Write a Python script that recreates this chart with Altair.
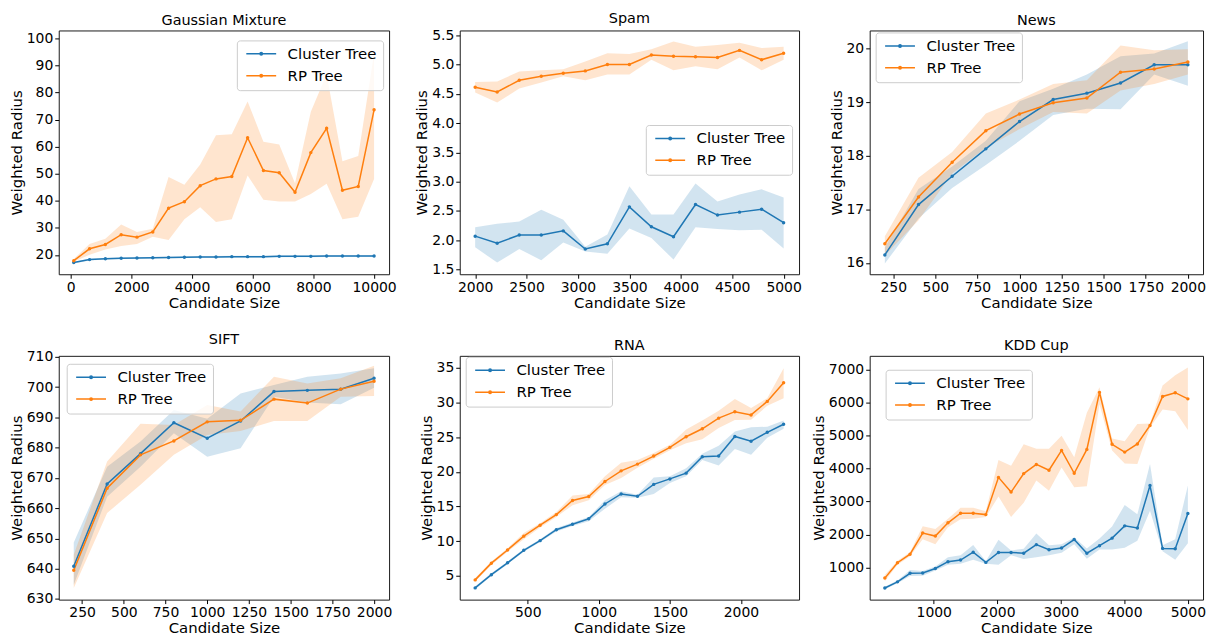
import altair as alt
import pandas as pd

FONT = "DejaVu Sans"
BLUE, ORANGE = "#1f77b4", "#ff7f0e"
SERIES = ["Cluster Tree", "RP Tree"]

# ---------------- Gaussian Mixture ----------------
gm_x = [100, 621, 1142, 1663, 2184, 2705, 3226, 3747, 4268, 4789, 5310, 5831, 6352, 6873, 7394, 7915, 8436, 8957, 9478, 10000]
gm_ct = [17.2, 18.3, 18.6, 18.8, 18.9, 19.0, 19.1, 19.2, 19.3, 19.3, 19.4, 19.4, 19.4, 19.5, 19.5, 19.5, 19.6, 19.6, 19.6, 19.6]
gm_ct_lo = [16.9, 18.0, 18.3, 18.5, 18.6, 18.7, 18.8, 18.9, 19.0, 19.0, 19.1, 19.1, 19.1, 19.2, 19.2, 19.2, 19.3, 19.3, 19.3, 19.3]
gm_ct_hi = [17.5, 18.6, 18.9, 19.1, 19.2, 19.3, 19.4, 19.5, 19.6, 19.6, 19.7, 19.7, 19.7, 19.8, 19.8, 19.8, 19.9, 19.9, 19.9, 19.9]
gm_rp = [17.9, 22.3, 23.9, 27.5, 26.6, 28.5, 37.3, 39.7, 45.6, 48.1, 49.0, 63.3, 51.2, 50.4, 43.2, 57.8, 66.8, 43.9, 45.3, 73.6]
gm_rp_lo = [17.5, 20.1, 22.0, 23.3, 24.1, 26.7, 25.5, 33.2, 37.6, 32.2, 33.2, 49.4, 40.4, 39.8, 39.8, 42.5, 46.3, 33.2, 34.1, 48.1]
gm_rp_hi = [18.5, 24.1, 26.0, 31.3, 28.5, 29.7, 48.8, 45.9, 53.4, 64.2, 64.6, 76.7, 61.8, 60.8, 46.5, 72.9, 86.7, 54.6, 56.6, 94.4]

# ---------------- Spam ----------------
sp_x = [2000, 2214, 2429, 2643, 2857, 3071, 3286, 3500, 3714, 3929, 4143, 4357, 4571, 4786, 5000]
sp_ct = [2.07, 1.95, 2.09, 2.09, 2.16, 1.85, 1.94, 2.57, 2.23, 2.06, 2.61, 2.43, 2.48, 2.53, 2.30]
sp_ct_lo = [1.88, 1.62, 1.85, 1.66, 1.96, 1.81, 1.77, 2.20, 2.04, 1.67, 2.22, 2.19, 2.17, 2.18, 1.86]
sp_ct_hi = [2.22, 2.28, 2.32, 2.52, 2.35, 1.89, 2.10, 2.92, 2.44, 2.44, 2.97, 2.66, 2.78, 2.87, 2.73]
sp_rp = [4.61, 4.53, 4.73, 4.80, 4.85, 4.89, 5.00, 5.00, 5.16, 5.14, 5.13, 5.12, 5.24, 5.08, 5.19]
sp_rp_lo = [4.52, 4.35, 4.59, 4.69, 4.80, 4.73, 4.83, 4.83, 5.08, 4.90, 4.97, 4.92, 5.12, 4.90, 5.08]
sp_rp_hi = [4.70, 4.71, 4.88, 4.90, 4.92, 5.05, 5.19, 5.18, 5.26, 5.39, 5.30, 5.33, 5.37, 5.28, 5.30]

# ---------------- News ----------------
nw_x = [200, 400, 600, 800, 1000, 1200, 1400, 1600, 1800, 2000]
nw_ct = [16.15, 17.09, 17.62, 18.13, 18.64, 19.05, 19.17, 19.36, 19.70, 19.70]
nw_ct_lo = [15.99, 16.83, 17.40, 17.83, 18.28, 18.76, 18.88, 18.87, 19.52, 19.31]
nw_ct_hi = [16.29, 17.38, 17.80, 18.28, 19.02, 19.25, 19.52, 19.86, 19.91, 20.14]
nw_rp = [16.36, 17.23, 17.88, 18.47, 18.78, 18.99, 19.08, 19.56, 19.62, 19.75]
nw_rp_lo = [16.14, 16.80, 17.67, 18.15, 18.50, 18.82, 18.79, 19.22, 19.34, 19.52]
nw_rp_hi = [16.50, 17.59, 18.07, 18.79, 19.05, 19.34, 19.41, 20.06, 19.97, 19.99]

# ---------------- SIFT ----------------
sf_x = [200, 400, 600, 800, 1000, 1200, 1400, 1600, 1800, 2000]
sf_ct = [640.8, 668.0, 678.0, 688.2, 683.1, 688.8, 698.5, 698.9, 699.3, 702.9]
sf_ct_lo = [634.7, 663.8, 673.7, 684.7, 677.0, 679.8, 696.8, 694.9, 694.3, 699.8]
sf_ct_hi = [648.7, 673.7, 682.0, 692.4, 689.5, 697.9, 700.7, 703.4, 704.5, 706.2]
sf_rp = [639.5, 666.6, 677.6, 682.2, 688.5, 689.0, 696.0, 694.7, 699.3, 701.9]
sf_rp_lo = [633.6, 658.4, 667.7, 677.6, 684.2, 685.5, 688.8, 688.8, 696.8, 697.0]
sf_rp_hi = [644.6, 675.4, 687.9, 687.5, 694.1, 691.9, 703.4, 701.2, 702.9, 707.0]

# ---------------- RNA ----------------
rn_x = [130, 244, 358, 472, 587, 701, 815, 929, 1043, 1157, 1272, 1386, 1500, 1614, 1728, 1843, 1957, 2071, 2185, 2300]
rn_ct = [3.29, 5.19, 6.90, 8.70, 10.09, 11.67, 12.45, 13.24, 15.37, 16.81, 16.48, 18.19, 18.98, 19.81, 22.18, 22.27, 25.09, 24.40, 25.69, 26.85]
rn_ct_lo = [3.1, 5.0, 6.7, 8.5, 9.9, 11.4, 12.2, 12.9, 14.7, 16.35, 16.25, 16.8, 18.4, 19.35, 21.7, 20.9, 23.3, 22.45, 24.9, 26.2]
rn_ct_hi = [3.5, 5.4, 7.1, 8.9, 10.3, 11.9, 12.7, 13.5, 15.9, 17.2, 16.7, 19.2, 19.35, 20.5, 22.6, 23.75, 25.8, 26.4, 26.5, 27.4]
rn_rp = [4.44, 6.85, 8.75, 10.74, 12.31, 13.84, 15.88, 16.44, 18.61, 20.14, 21.11, 22.27, 23.52, 25.05, 26.2, 27.73, 28.66, 28.19, 30.14, 32.82]
rn_rp_lo = [4.2, 6.6, 8.5, 10.3, 12.0, 13.5, 15.2, 15.9, 18.1, 19.1, 20.6, 21.9, 23.1, 24.1, 24.7, 26.3, 27.45, 27.5, 29.5, 30.6]
rn_rp_hi = [4.7, 7.1, 9.0, 11.2, 12.6, 14.2, 16.6, 16.8, 19.35, 21.3, 21.7, 22.7, 23.9, 26.1, 27.4, 28.8, 30.5, 29.2, 30.6, 34.9]

# ---------------- KDD Cup ----------------
kd_x = [230, 429, 627, 826, 1025, 1224, 1422, 1621, 1820, 2019, 2217, 2416, 2615, 2814, 3012, 3211, 3410, 3609, 3807, 4006, 4205, 4404, 4602, 4801, 5000]
kd_ct = [379, 565, 824, 834, 969, 1176, 1227, 1465, 1155, 1455, 1455, 1434, 1693, 1538, 1590, 1848, 1434, 1662, 1890, 2262, 2200, 3483, 1579, 1569, 2634]
kd_ct_lo = [338, 524, 741, 752, 907, 1083, 1114, 1238, 1114, 1083, 1372, 1259, 1310, 1372, 1445, 1703, 1269, 1548, 1548, 1600, 1807, 2717, 1496, 1238, 1734]
kd_ct_hi = [420, 607, 928, 896, 1031, 1310, 1372, 1683, 1186, 1838, 1517, 1569, 2034, 1672, 1703, 1910, 1579, 1879, 2241, 2893, 2614, 4134, 1672, 1859, 3483]
kd_rp = [679, 1145, 1403, 2045, 1952, 2355, 2645, 2645, 2603, 3731, 3286, 3845, 4124, 3948, 4548, 3855, 4579, 6307, 4734, 4497, 4745, 5303, 6183, 6297, 6110]
kd_rp_lo = [586, 1083, 1341, 1859, 1703, 2221, 2459, 2479, 2531, 3152, 2531, 2966, 3638, 3328, 4031, 3431, 3462, 5945, 4548, 4155, 4134, 5241, 5790, 5738, 5169]
kd_rp_hi = [772, 1207, 1465, 2252, 2169, 2479, 2810, 2810, 2707, 4259, 4083, 4734, 4600, 4600, 4993, 4341, 5686, 6462, 4910, 4828, 5345, 5366, 6514, 6824, 7062]

# legend symbol: a short line with a dot in the middle
LEG_PATH = "M-0.8,0L5.2,0M1.95,0A0.25,0.25,0,1,0,2.45,0A0.25,0.25,0,1,0,1.95,0"


def make_df(x, ct, ct_lo, ct_hi, rp, rp_lo, rp_hi):
    rows = []
    for s, m, lo, hi in ((SERIES[0], ct, ct_lo, ct_hi), (SERIES[1], rp, rp_lo, rp_hi)):
        for xi, mi, l, h in zip(x, m, lo, hi):
            rows.append({"x": xi, "mean": mi, "lo": l, "hi": h, "series": s})
    return pd.DataFrame(rows)


def panel(title, df, xdom, ydom, xticks, yticks, yfmt, w, h, lx, ly):
    xs = alt.Scale(domain=xdom, nice=False, zero=False)
    ys = alt.Scale(domain=ydom, nice=False, zero=False)
    xax = alt.Axis(values=xticks, title="Candidate Size", format="d")
    yax = alt.Axis(values=yticks, title="Weighted Radius", format=yfmt)
    cs = alt.Scale(domain=SERIES, range=[BLUE, ORANGE])
    leg = alt.Legend(
        orient="none", legendX=lx, legendY=ly, title=None,
        symbolType=LEG_PATH, symbolSize=100, symbolStrokeWidth=1.5,
        symbolOpacity=1, labelFont=FONT, labelFontSize=15,
        labelColor="black", labelOffset=30, labelLimit=300,
        padding=6, rowPadding=6, fillColor="rgba(255,255,255,0.8)",
        strokeColor="#cccccc", cornerRadius=3,
    )
    color = alt.Color("series:N", scale=cs, legend=leg)
    base = alt.Chart(df)
    band = base.mark_area(opacity=0.2).encode(
        x=alt.X("x:Q", scale=xs, axis=xax),
        y=alt.Y("lo:Q", scale=ys, axis=yax),
        y2="hi:Q",
        color=color,
    )
    line = base.mark_line(strokeWidth=1.5).encode(
        x=alt.X("x:Q", scale=xs, axis=xax),
        y=alt.Y("mean:Q", scale=ys, axis=yax),
        color=color,
    )
    pts = base.mark_point(filled=True, size=12, opacity=1).encode(
        x=alt.X("x:Q", scale=xs, axis=xax),
        y=alt.Y("mean:Q", scale=ys, axis=yax),
        color=color,
    )
    return alt.layer(band, line, pts).properties(
        width=w, height=h,
        title=alt.TitleParams(title, font=FONT, fontSize=14.5, fontWeight="normal",
                              color="black", offset=2, anchor="middle"),
    )


W1, W2, W3 = 332, 341, 335
H1, H2 = 245, 245

p1 = panel("Gaussian Mixture", make_df(gm_x, gm_ct, gm_ct_lo, gm_ct_hi, gm_rp, gm_rp_lo, gm_rp_hi),
           [-395, 10495], [12.9, 102.9], [0, 2000, 4000, 6000, 8000, 10000],
           [20, 30, 40, 50, 60, 70, 80, 90, 100], "d", W1, H1, W1 - 153, 10)
p2 = panel("Spam", make_df(sp_x, sp_ct, sp_ct_lo, sp_ct_hi, sp_rp, sp_rp_lo, sp_rp_hi),
           [1850, 5150], [1.42, 5.58], [2000, 2500, 3000, 3500, 4000, 4500, 5000],
           [1.5, 2.0, 2.5, 3.0, 3.5, 4.0, 4.5, 5.0, 5.5], ".1f", W2, H1, W2 - 154, 95)
p3 = panel("News", make_df(nw_x, nw_ct, nw_ct_lo, nw_ct_hi, nw_rp, nw_rp_lo, nw_rp_hi),
           [110, 2090], [15.79, 20.34], [250, 500, 750, 1000, 1250, 1500, 1750, 2000],
           [16, 17, 18, 19, 20], "d", W3, H1, 6, 2)
p4 = panel("SIFT", make_df(sf_x, sf_ct, sf_ct_lo, sf_ct_hi, sf_rp, sf_rp_lo, sf_rp_hi),
           [110, 2090], [629.8, 710.3], [250, 500, 750, 1000, 1250, 1500, 1750, 2000],
           [630, 640, 650, 660, 670, 680, 690, 700, 710], "d", W1, H2, 8, 8)
p5 = panel("RNA", make_df(rn_x, rn_ct, rn_ct_lo, rn_ct_hi, rn_rp, rn_rp_lo, rn_rp_hi),
           [21.5, 2408.5], [1.6, 36.7], [500, 1000, 1500, 2000],
           [5, 10, 15, 20, 25, 30, 35], "d", W2, H2, 6, 1)
p6 = panel("KDD Cup", make_df(kd_x, kd_ct, kd_ct_lo, kd_ct_hi, kd_rp, kd_rp_lo, kd_rp_hi),
           [-8.5, 5238.5], [27, 7414], [1000, 2000, 3000, 4000, 5000],
           [1000, 2000, 3000, 4000, 5000, 6000, 7000], "d", W3, H2, 16, 14)

chart = (
    alt.concat(p1, p2, p3, p4, p5, p6, columns=3,
               spacing={"row": 82, "column": 71}, bounds="flush")
    .resolve_scale(color="independent")
    .resolve_legend(color="independent")
    .properties(padding={"left": 0, "top": 0, "right": 0, "bottom": 0})
    .configure(font=FONT)
    .configure_view(stroke="#1a1a1a", strokeWidth=1)
    .configure_axis(
        grid=False, domain=False, tickColor="black", tickSize=4, tickWidth=1,
        labelFont=FONT, labelFontSize=14, labelColor="black", labelPadding=2,
        labelFlush=False, labelOverlap=False,
        titleFont=FONT, titleFontSize=15, titleFontWeight="normal", titleColor="black",
    )
    .configure_axisX(titlePadding=1)
    .configure_axisY(titlePadding=2)
)

chart.save("out.html", embed_options={"renderer": "svg", "actions": False})
